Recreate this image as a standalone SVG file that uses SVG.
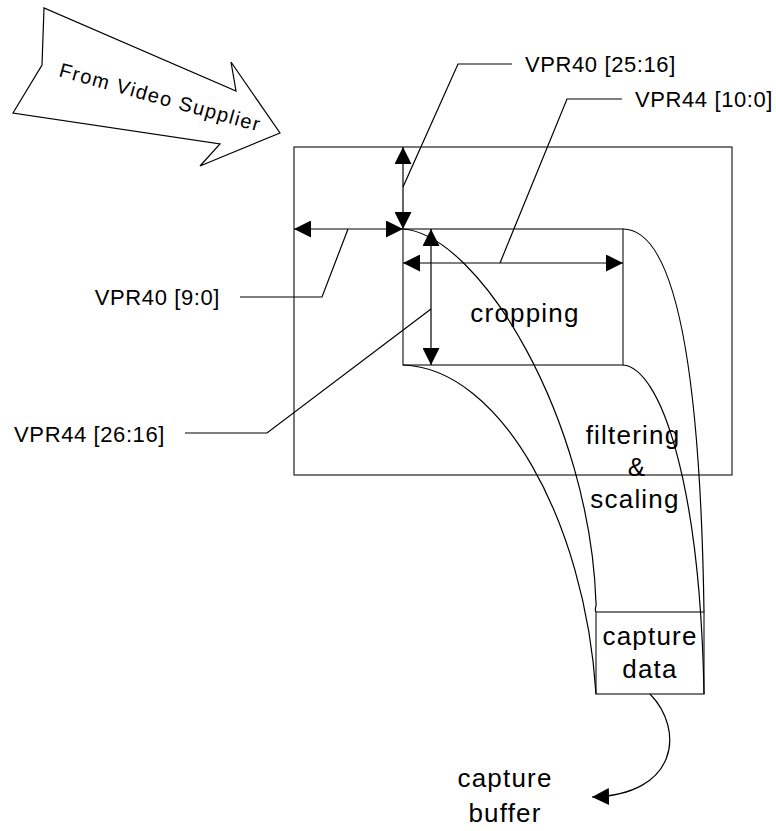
<svg xmlns="http://www.w3.org/2000/svg" width="776" height="831" viewBox="0 0 776 831">
<style>
.ln{fill:none;stroke:#000;stroke-width:1.2}
.box{fill:none;stroke:#333;stroke-width:1.3}
.lbl{font-family:"Liberation Sans",Arial,sans-serif;font-size:22px;letter-spacing:0.6px;fill:#000}
.big{font-family:"Liberation Sans",Arial,sans-serif;font-size:26px;letter-spacing:1.2px;fill:#000;text-anchor:middle}
.arr{marker-start:url(#ah);marker-end:url(#ah)}
</style>
<defs>
<marker id="ah" markerUnits="userSpaceOnUse" markerWidth="17" markerHeight="17" refX="16" refY="8" orient="auto-start-reverse" viewBox="0 0 16 16">
<path d="M0,0 L16,8 L0,16 z" fill="#000"/>
</marker>
<marker id="ah1" markerUnits="userSpaceOnUse" markerWidth="17" markerHeight="17" refX="16" refY="8" orient="auto" viewBox="0 0 16 16">
<path d="M0,0 L16,8 L0,16 z" fill="#000"/>
</marker>
</defs>
<g id="supplier-arrow">
<polygon points="44,8 42,65 13,113 220,144 200,166 280,133 231,62 236,91" fill="#fff" stroke="#000" stroke-width="1.2"/>
<text class="lbl" transform="translate(58,76) rotate(15.5)" style="font-size:20px;letter-spacing:1.4px">From Video Supplier</text>
</g>
<g id="frame">
<rect x="294" y="147" width="438" height="328" class="box"/>
</g>
<g id="crop">
<rect x="403" y="229" width="220" height="136" class="box"/>
<text class="big" x="525" y="322">cropping</text>
</g>
<g id="filter-label">
<text class="big" x="633" y="444">filtering</text>
<text class="big" x="637" y="476">&amp;</text>
<text class="big" x="635" y="508">scaling</text>
</g>
<g id="capture-data">
<rect x="596" y="612" width="108" height="82" class="box"/>
<text class="big" x="650" y="645">capture</text>
<text class="big" x="650" y="678">data</text>
</g>
<g id="capture-buffer">
<text class="big" x="505" y="787">capture</text>
<text class="big" x="505" y="822">buffer</text>
</g>
<g id="labels">
<text class="lbl" x="525" y="72">VPR40 [25:16]</text>
<text class="lbl" x="635" y="107">VPR44 [10:0]</text>
<text class="lbl" x="220" y="305" text-anchor="end">VPR40 [9:0]</text>
<text class="lbl" x="165" y="442" text-anchor="end">VPR44 [26:16]</text>
</g>
<g id="connectors">
<line class="ln arr" x1="403" y1="147" x2="403" y2="229"/>
<line class="ln arr" x1="294" y1="229" x2="403" y2="229"/>
<line class="ln arr" x1="403" y1="263" x2="623" y2="263"/>
<line class="ln arr" x1="431" y1="229" x2="431" y2="365"/>
<polyline class="ln" points="512,64 458,64 403,187"/>
<polyline class="ln" points="622,99 567,99 500,263"/>
<polyline class="ln" points="240,297 322,297 348,229"/>
<polyline class="ln" points="185,433 267,433 431,309"/>
<path class="ln" d="M403,229 C480,235 590,420 596,603 C597,606 594,608 596,612"/>
<path class="ln" d="M403,365 C500,368 585,520 596,694"/>
<path class="ln" d="M623,229 C670,229 700,340 704,612"/>
<path class="ln" d="M623,365 C660,368 700,480 704,694"/>
<path class="ln" d="M650,694 C685,730 678,795 592,797" marker-end="url(#ah1)"/>
</g>
</svg>
